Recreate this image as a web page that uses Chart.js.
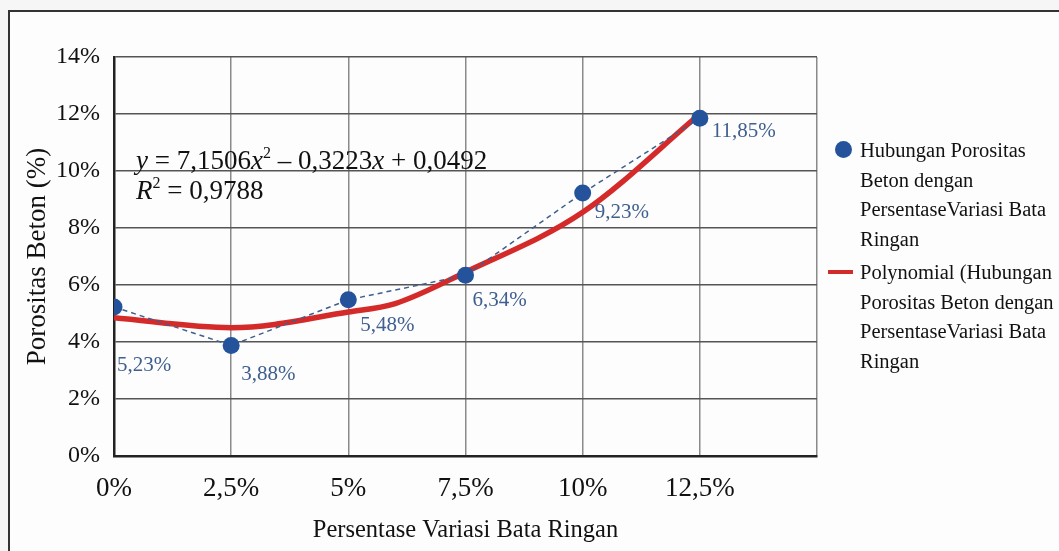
<!DOCTYPE html>
<html lang="id">
<head>
  <meta charset="UTF-8">
  <title>Porositas Beton</title>
  <script src="https://cdn.jsdelivr.net/npm/chart.js"></script>
  <style>
    html, body { margin: 0; padding: 0; background: #f6f6f6; }
    #wrap { position: relative; width: 1059px; height: 551px; overflow: hidden; }
    #frame { position: absolute; left: 8px; top: 10px; width: 1060px; height: 560px; background: #fdfdfd;
             border-left: 2px solid #333; border-top: 2px solid #333; }
    canvas { position: absolute; left: 0; top: 0; }
    #legend { position: absolute; left: 828px; top: 136px; font-family: "Liberation Serif", serif;
              font-size: 20.5px; line-height: 29.5px; color: #111; }
    .item { position: relative; padding-left: 32px; margin-bottom: 4px; }
    .dot { position: absolute; left: 7px; top: 5px; width: 17px; height: 17px; border-radius: 50%; background: #24539c; }
    .bar { position: absolute; left: 0; top: 12px; width: 25px; height: 4px; background: #d42a2a; }
  </style>
</head>
<body>
<div id="wrap">
  <div id="frame"></div>
  <canvas id="chart" width="1059" height="551"></canvas>
  <div id="legend">
    <div class="item"><span class="dot"></span>Hubungan Porositas<br>Beton dengan<br>PersentaseVariasi Bata<br>Ringan</div>
    <div class="item"><span class="bar"></span>Polynomial (Hubungan<br>Porositas Beton dengan<br>PersentaseVariasi Bata<br>Ringan</div>
  </div>
</div>
<script>
  // measured points (x = % bata ringan, y = porositas %)
  const variasi = [0, 2.5, 5, 7.5, 10, 12.5];
  const porositas = [5.23, 3.88, 5.48, 6.34, 9.23, 11.85];
  const pointLabels = ['5,23%', '3,88%', '5,48%', '6,34%', '9,23%', '11,85%'];
  // polynomial trendline
  const trendX = [0, 2.5, 5, 6, 7.5, 10, 12.5];
  const trendY = [4.85, 4.5, 5.05, 5.35, 6.45, 8.55, 12.0];
  const xTicks = [0, 2.5, 5, 7.5, 10, 12.5];

  // label placement relative to each point (px)
  const labelOffsets = [[3, 59], [10, 29], [12, 26], [7, 25], [12, 20], [12, 13]];

  const serif = '"Liberation Serif", "Times New Roman", serif';
  const fmt = v => String(v).replace('.', ',') + '%';

  const extras = {
    id: 'extras',
    afterDatasetsDraw(chart) {
      const ctx = chart.ctx;
      const meta = chart.getDatasetMeta(1);
      ctx.save();
      ctx.font = '21px ' + serif;
      ctx.fillStyle = '#3e5f8f';
      ctx.textBaseline = 'middle';
      ctx.textAlign = 'left';
      meta.data.forEach((pt, i) => {
        ctx.fillText(pointLabels[i], pt.x + labelOffsets[i][0], pt.y + labelOffsets[i][1]);
      });

      // trendline equation
      const a = chart.chartArea;
      let x = a.left + 22, y = a.top + 112;
      ctx.fillStyle = '#111';
      const parts = [
        ['italic 27px', 'y', 0], ['27px', ' = 7,1506', 0], ['italic 27px', 'x', 0], ['16px', '2', -11],
        ['27px', ' \u2013 0,3223', 0], ['italic 27px', 'x', 0], ['27px', ' + 0,0492', 0]
      ];
      ctx.textBaseline = 'alphabetic';
      parts.forEach(p => {
        ctx.font = p[0] + ' ' + serif;
        ctx.fillText(p[1], x, y + p[2]);
        x += ctx.measureText(p[1]).width;
      });
      x = a.left + 22; y += 30;
      [['italic 27px', 'R', 0], ['16px', '2', -11], ['27px', ' = 0,9788', 0]].forEach(p => {
        ctx.font = p[0] + ' ' + serif;
        ctx.fillText(p[1], x, y + p[2]);
        x += ctx.measureText(p[1]).width;
      });
      ctx.restore();
    }
  };

  new Chart(document.getElementById('chart'), {
    type: 'scatter',
    data: {
      datasets: [
        {
          label: 'Polynomial (Hubungan Porositas Beton dengan PersentaseVariasi Bata Ringan',
          data: trendX.map((v, i) => ({ x: v, y: trendY[i] })),
          showLine: true,
          borderColor: '#d42a2a',
          borderWidth: 5.5,
          pointRadius: 0,
          tension: 0.3,
          cubicInterpolationMode: 'monotone',
          order: 2
        },
        {
          label: 'Hubungan Porositas Beton dengan PersentaseVariasi Bata Ringan',
          data: variasi.map((v, i) => ({ x: v, y: porositas[i] })),
          showLine: true,
          borderColor: '#3f5f8c',
          borderWidth: 1.5,
          borderDash: [5, 4],
          pointRadius: 8.5,
          pointBackgroundColor: '#24539c',
          pointBorderWidth: 0,
          order: 1
        }
      ]
    },
    options: {
      responsive: false,
      animation: false,
      layout: { padding: { left: 0, top: 57, right: 242, bottom: 0 } },
      plugins: { legend: { display: false }, tooltip: { enabled: false } },
      scales: {
        x: {
          type: 'linear', min: 0, max: 15,
          afterBuildTicks: s => { s.ticks = [0, 2.5, 5, 7.5, 10, 12.5, 15].map(v => ({ value: v })); },
          afterFit: s => { s.height = 95; },
          grid: { color: '#8a8a8a', lineWidth: 1.5, drawTicks: false },
          border: { color: '#222', width: 2.5 },
          ticks: {
            padding: 17, color: '#111', font: { family: serif, size: 27 }, maxRotation: 0,
            callback: v => xTicks.includes(v) ? fmt(v) : ''
          },
          title: {
            display: true, text: 'Persentase Variasi Bata Ringan', color: '#111',
            font: { family: serif, size: 24.5 }, padding: { top: 0, bottom: 6 }
          }
        },
        y: {
          min: 0, max: 14,
          afterFit: s => { s.width = 114; },
          grid: { color: '#555', lineWidth: 1.5, drawTicks: false },
          border: { color: '#222', width: 2.5 },
          ticks: { stepSize: 2, padding: 14, color: '#111', font: { family: serif, size: 24 }, callback: v => v + '%' },
          title: {
            display: true, text: 'Porositas Beton (%)', color: '#111',
            font: { family: serif, size: 27 }, padding: { top: 22, bottom: 0 }
          }
        }
      }
    },
    plugins: [extras]
  });
</script>
</body>
</html>
